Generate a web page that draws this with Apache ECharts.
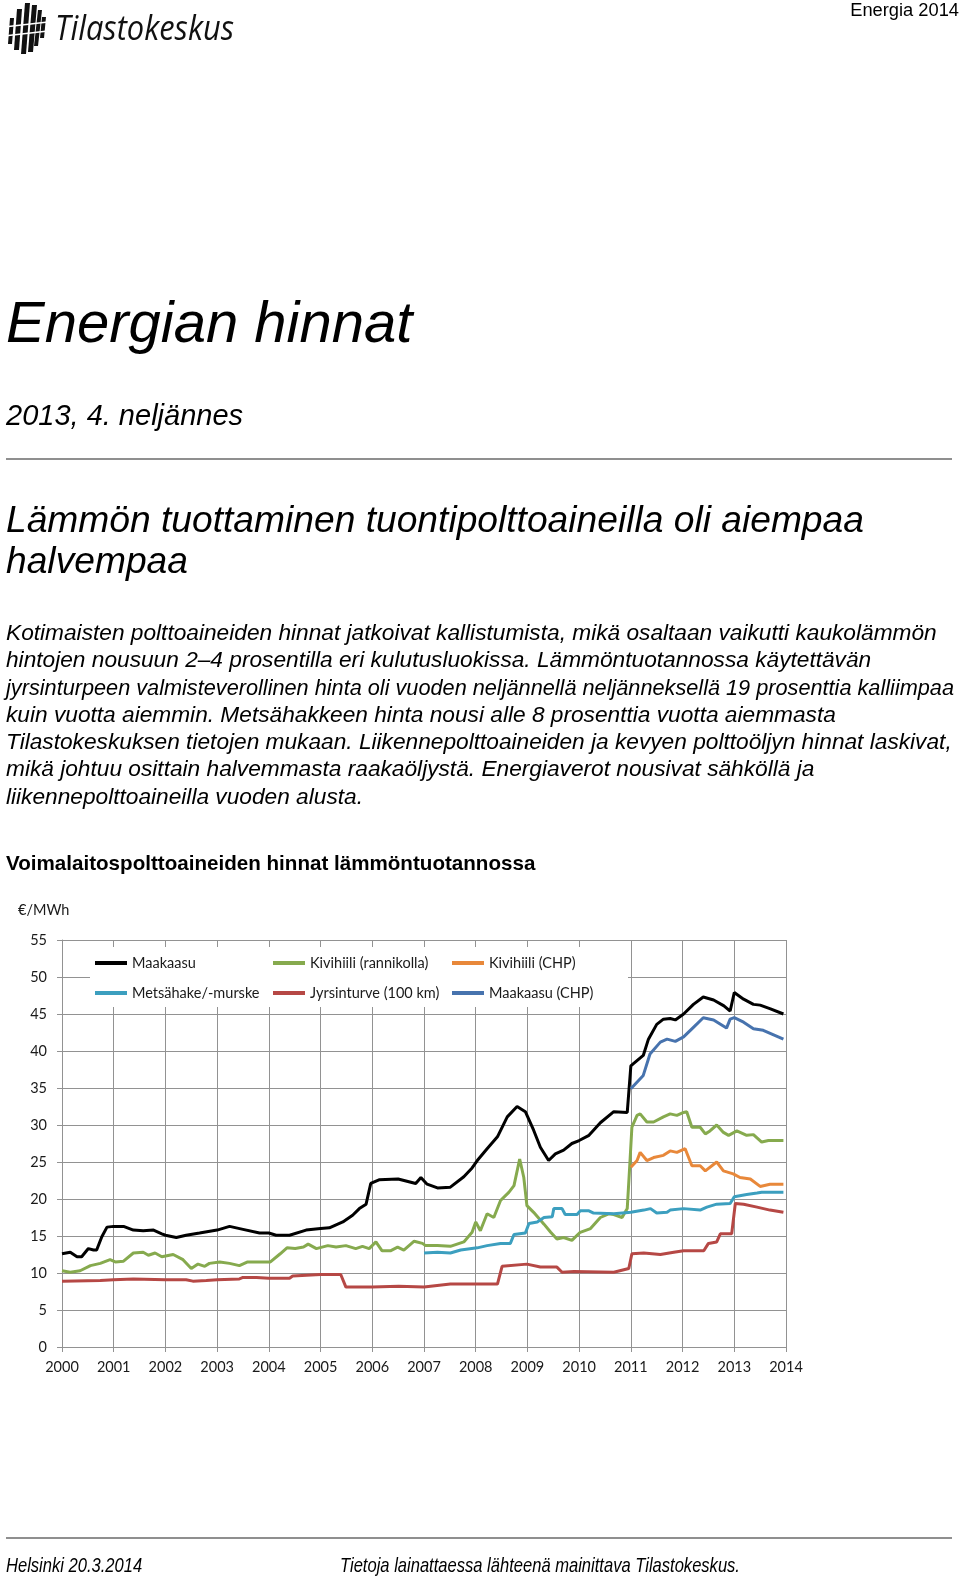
<!DOCTYPE html>
<html>
<head>
<meta charset="utf-8">
<script src="https://cdn.jsdelivr.net/npm/echarts@6/dist/echarts.min.js"></script>
<style>
html,body{margin:0;padding:0;background:#fff;}
body{width:960px;height:1579px;position:relative;overflow:hidden;font-family:"Liberation Sans",Arial,sans-serif;color:#000;}
#chart{position:absolute;left:0;top:0;width:960px;height:1579px;}
.t{position:absolute;white-space:nowrap;margin:0;z-index:2;}
.it{font-style:italic;}
.rule{position:absolute;left:6px;width:946px;height:2px;background:#8f8f8f;z-index:2;}
.narrow{display:inline-block;transform:scaleX(0.82);transform-origin:0 0;}
.pl{display:block;white-space:nowrap;transform-origin:0 0;}
</style>
</head>
<body>
<div id="chart"></div>

<svg class="t" style="left:0;top:0" width="50" height="58" viewBox="0 0 50 58">
  <g fill="#111">
    <polygon points="8,44 12,44 14,18 10,18"/>
    <polygon points="14,50 19,50 22,9 17,9"/>
    <polygon points="21,54 26,54 30,3 25,3"/>
    <polygon points="28,52 33,52 37,5 32,5"/>
    <polygon points="34,46 38,46 42,10 38,10"/>
    <polygon points="40,38 44,38 46,17 42,17"/>
  </g>
  <g stroke="#fff" stroke-width="1.6">
    <line x1="4" y1="27" x2="48" y2="22"/>
    <line x1="4" y1="36" x2="48" y2="31"/>
  </g>
</svg>
<div class="t it" id="logoText" style="left:55px;top:10px;font-family:'Open Sans',sans-serif;font-size:34px;line-height:34px;color:#111;">Tilastokeskus</div>

<div class="t" style="right:1px;top:1px;font-size:18.3px;line-height:18px;">Energia 2014</div>

<div class="t it" style="left:6px;top:293px;font-size:58px;line-height:58px;">Energian hinnat</div>
<div class="t it" style="left:6px;top:401px;font-size:29px;line-height:29px;">2013, 4. neljännes</div>
<div class="rule" style="top:458px;"></div>

<div class="t it" style="left:6px;top:499px;font-size:37.2px;line-height:41.3px;">Lämmön tuottaminen tuontipolttoaineilla oli aiempaa<br>halvempaa</div>

<div class="t it" style="left:6px;top:619px;font-size:22.7px;line-height:27.3px;">
<span class="pl">Kotimaisten polttoaineiden hinnat jatkoivat kallistumista, mikä osaltaan vaikutti kaukolämmön</span>
<span class="pl">hintojen nousuun 2–4 prosentilla eri kulutusluokissa. Lämmöntuotannossa käytettävän</span>
<span class="pl" id="pline3">jyrsinturpeen valmisteverollinen hinta oli vuoden neljännellä neljänneksellä 19 prosenttia kalliimpaa</span>
<span class="pl">kuin vuotta aiemmin. Metsähakkeen hinta nousi alle 8 prosenttia vuotta aiemmasta</span>
<span class="pl">Tilastokeskuksen tietojen mukaan. Liikennepolttoaineiden ja kevyen polttoöljyn hinnat laskivat,</span>
<span class="pl">mikä johtuu osittain halvemmasta raakaöljystä. Energiaverot nousivat sähköllä ja</span>
<span class="pl">liikennepolttoaineilla vuoden alusta.</span>
</div>

<div class="t" style="left:6px;top:853px;font-size:20.6px;line-height:20.6px;font-weight:bold;">Voimalaitospolttoaineiden hinnat lämmöntuotannossa</div>

<div class="rule" style="top:1537px;"></div>
<div class="t it" style="left:6px;top:1555px;font-size:20.2px;line-height:20.2px;"><span class="narrow">Helsinki 20.3.2014</span></div>
<div class="t it" style="left:340px;top:1555px;font-size:20.2px;line-height:20.2px;"><span class="narrow">Tietoja lainattaessa lähteenä mainittava Tilastokeskus.</span></div>

<script>
// ---- Data (decimal year, €/MWh) ----
const yearLabels = ['2000','2001','2002','2003','2004','2005','2006','2007','2008','2009','2010','2011','2012','2013','2014'];
const yTickLabels = ['0','5','10','15','20','25','30','35','40','45','50','55'];
const seriesNames = ['Maakaasu','Kivihiili (rannikolla)','Kivihiili (CHP)','Metsähake/-murske','Jyrsinturve (100 km)','Maakaasu (CHP)'];
const seriesColors = ['#000000','#86aa4e','#e8883a','#3c9fbf','#b64845','#4773ae'];

const maakaasu = [[2000.00,12.6],[2000.16,12.8],[2000.29,12.2],[2000.38,12.2],[2000.51,13.3],[2000.61,13.1],[2000.67,13.1],[2000.77,14.9],[2000.87,16.2],[2001.0,16.3],[2001.19,16.3],[2001.38,15.8],[2001.57,15.7],[2001.77,15.8],[2001.93,15.3],[2002.0,15.1],[2002.21,14.8],[2002.4,15.1],[2002.66,15.4],[2003.0,15.8],[2003.24,16.3],[2003.5,15.9],[2003.82,15.4],[2004.0,15.4],[2004.14,15.1],[2004.4,15.1],[2004.72,15.8],[2005.0,16.0],[2005.17,16.1],[2005.43,16.9],[2005.62,17.8],[2005.75,18.7],[2005.88,19.3],[2005.97,22.1],[2006.13,22.6],[2006.5,22.7],[2006.84,22.1],[2006.94,22.9],[2007.06,22.0],[2007.26,21.5],[2007.51,21.6],[2007.77,23.0],[2007.93,24.2],[2008.03,25.2],[2008.22,26.8],[2008.42,28.4],[2008.61,31.1],[2008.8,32.5],[2008.96,31.8],[2009.12,29.3],[2009.25,27.0],[2009.41,25.2],[2009.54,26.1],[2009.7,26.6],[2009.86,27.5],[2010.0,27.9],[2010.19,28.6],[2010.41,30.3],[2010.67,31.8],[2010.93,31.7],[2011.0,38.0],[2011.05,38.3],[2011.24,39.4],[2011.34,41.6],[2011.5,43.6],[2011.63,44.3],[2011.76,44.4],[2011.86,44.2],[2012.02,45.0],[2012.21,46.3],[2012.4,47.3],[2012.6,46.9],[2012.8,46.1],[2012.92,45.4],[2013.0,47.9],[2013.18,47.0],[2013.37,46.3],[2013.5,46.2],[2013.7,45.7],[2013.95,45.0]];

const kivihiiliRannikolla = [[2000.0,10.3],[2000.16,10.1],[2000.35,10.3],[2000.55,11.0],[2000.74,11.3],[2000.93,11.8],[2001.03,11.5],[2001.19,11.6],[2001.38,12.7],[2001.57,12.8],[2001.67,12.4],[2001.8,12.7],[2001.93,12.2],[2002.15,12.5],[2002.34,11.8],[2002.5,10.6],[2002.63,11.2],[2002.76,10.9],[2002.85,11.3],[2003.05,11.5],[2003.24,11.3],[2003.43,11.0],[2003.59,11.5],[2003.82,11.5],[2004.03,11.5],[2004.22,12.6],[2004.35,13.4],[2004.51,13.3],[2004.67,13.5],[2004.76,13.9],[2004.92,13.3],[2005.14,13.7],[2005.3,13.5],[2005.49,13.7],[2005.68,13.3],[2005.81,13.6],[2005.94,13.3],[2006.07,14.2],[2006.19,13.0],[2006.35,13.0],[2006.49,13.5],[2006.61,13.1],[2006.81,14.3],[2006.97,14.0],[2007.03,13.7],[2007.26,13.7],[2007.51,13.6],[2007.77,14.2],[2007.93,15.5],[2008.0,16.9],[2008.09,15.7],[2008.22,18.0],[2008.35,17.5],[2008.48,19.8],[2008.64,20.9],[2008.74,21.8],[2008.85,25.4],[2008.93,22.9],[2008.99,19.1],[2009.12,18.2],[2009.32,16.6],[2009.45,15.5],[2009.57,14.6],[2009.7,14.8],[2009.86,14.4],[2010.02,15.5],[2010.22,16.0],[2010.41,17.5],[2010.57,18.0],[2010.67,17.9],[2010.83,17.5],[2010.93,18.7],[2010.98,24.7],[2011.02,29.7],[2011.12,31.3],[2011.18,31.5],[2011.31,30.4],[2011.44,30.4],[2011.63,31.1],[2011.76,31.5],[2011.89,31.3],[2012.02,31.7],[2012.08,31.8],[2012.18,29.7],[2012.34,29.7],[2012.44,28.8],[2012.53,29.2],[2012.66,30.0],[2012.79,29.0],[2012.89,28.6],[2013.05,29.2],[2013.24,28.6],[2013.37,28.7],[2013.53,27.7],[2013.66,27.9],[2013.95,27.9]];

const kivihiiliCHP = [[2011.0,24.3],[2011.12,25.2],[2011.18,26.3],[2011.31,25.2],[2011.44,25.6],[2011.63,25.9],[2011.76,26.5],[2011.89,26.3],[2012.05,26.8],[2012.18,24.5],[2012.34,24.5],[2012.44,23.8],[2012.66,25.0],[2012.79,23.8],[2012.98,23.4],[2013.11,22.9],[2013.31,22.7],[2013.5,21.7],[2013.69,22.0],[2013.95,22.0]];

const metsahake = [[2007.0,12.7],[2007.26,12.8],[2007.51,12.7],[2007.71,13.1],[2008.03,13.4],[2008.22,13.7],[2008.48,14.0],[2008.67,14.0],[2008.74,15.2],[2008.96,15.4],[2009.03,16.7],[2009.19,16.9],[2009.32,17.5],[2009.48,17.6],[2009.51,18.7],[2009.67,18.7],[2009.73,17.9],[2009.96,17.9],[2010.02,18.4],[2010.19,18.4],[2010.28,18.1],[2010.67,18.0],[2011.0,18.2],[2011.25,18.5],[2011.38,18.7],[2011.5,18.1],[2011.7,18.2],[2011.76,18.5],[2012.02,18.7],[2012.34,18.5],[2012.47,18.9],[2012.66,19.3],[2012.92,19.4],[2013.0,20.3],[2013.24,20.6],[2013.44,20.8],[2013.53,20.9],[2013.95,20.9]];

const jyrsinturve = [[2000.0,8.9],[2000.74,9.0],[2001.0,9.1],[2001.38,9.2],[2002.0,9.1],[2002.4,9.1],[2002.53,8.9],[2002.79,9.0],[2003.0,9.1],[2003.43,9.2],[2003.5,9.4],[2003.76,9.4],[2004.0,9.3],[2004.4,9.3],[2004.46,9.6],[2005.0,9.8],[2005.39,9.8],[2005.49,8.1],[2006.0,8.1],[2006.51,8.2],[2007.0,8.1],[2007.51,8.5],[2008.42,8.5],[2008.51,10.9],[2008.99,11.2],[2009.25,10.8],[2009.57,10.8],[2009.67,10.1],[2009.9,10.2],[2010.67,10.1],[2010.96,10.6],[2011.02,12.6],[2011.25,12.7],[2011.57,12.5],[2011.83,12.8],[2012.02,13.0],[2012.41,13.0],[2012.5,14.0],[2012.66,14.2],[2012.73,15.3],[2012.95,15.3],[2013.02,19.4],[2013.18,19.3],[2013.44,18.9],[2013.69,18.5],[2013.95,18.2]];

const maakaasuCHP = [[2011.0,34.9],[2011.24,36.7],[2011.37,39.6],[2011.57,41.2],[2011.7,41.6],[2011.86,41.3],[2012.02,41.9],[2012.21,43.2],[2012.4,44.5],[2012.6,44.2],[2012.85,43.1],[2012.92,44.3],[2013.0,44.5],[2013.18,43.9],[2013.37,43.0],[2013.56,42.8],[2013.95,41.6]];

const seriesData = [maakaasu, kivihiiliRannikolla, kivihiiliCHP, metsahake, jyrsinturve, maakaasuCHP];

// ---- text width fitting (layout only) ----
function fitWidth(el, target) {
  el.style.display = 'inline-block';
  const w = el.getBoundingClientRect().width;
  el.style.transformOrigin = '0 0';
  el.style.transform = 'scaleX(' + (target / w) + ')';
  el.style.display = 'block';
}
(function(){
  const logo = document.getElementById('logoText');
  const w = logo.getBoundingClientRect().width;
  logo.style.transformOrigin = '0 0';
  logo.style.transform = 'scaleX(' + (179 / w) + ')';
  fitWidth(document.getElementById('pline3'), 948);
})();

const chartFont = 'Lato, "Open Sans", sans-serif';
const chart = echarts.init(document.getElementById('chart'), null, {renderer: 'canvas'});

const legendBase = {
  orient: 'vertical', top: 955, itemGap: 14, itemWidth: 32, itemHeight: 4,
  icon: 'rect', padding: 0, selectedMode: false,
  textStyle: {fontFamily: chartFont, fontSize: 14.5, color: '#1a1a1a', lineHeight: 16}
};

chart.setOption({
  animation: false,
  textStyle: {fontFamily: chartFont},
  grid: {left: 62, right: 174, top: 940, bottom: 232, show: false},
  graphic: [
    {type: 'rect', z: 3, shape: {x: 90, y: 947, width: 538, height: 60}, style: {fill: '#fff'}},
    {type: 'text', z: 3, x: 18, y: 910, style: {text: '€/MWh', fontFamily: chartFont, fontSize: 14.5, fill: '#1a1a1a', verticalAlign: 'middle'}}
  ],
  legend: [
    Object.assign({}, legendBase, {left: 95, data: [seriesNames[0], seriesNames[3]]}),
    Object.assign({}, legendBase, {left: 273, data: [seriesNames[1], seriesNames[4]]}),
    Object.assign({}, legendBase, {left: 452, data: [seriesNames[2], seriesNames[5]]})
  ],
  xAxis: {
    type: 'value', min: 2000, max: 2014, interval: 1,
    axisLine: {show: true, lineStyle: {color: '#929292', width: 1}},
    axisTick: {show: true, length: 5, lineStyle: {color: '#929292'}},
    splitLine: {show: true, lineStyle: {color: '#929292', width: 1}},
    axisLabel: {margin: 13, fontSize: 14.5, color: '#1a1a1a', fontFamily: chartFont,
      formatter: v => yearLabels[Math.round(v - 2000)]}
  },
  yAxis: {
    type: 'value', min: 0, max: 55, interval: 5,
    axisLine: {show: true, lineStyle: {color: '#929292', width: 1}},
    axisTick: {show: true, length: 5, lineStyle: {color: '#929292'}},
    splitLine: {show: true, lineStyle: {color: '#929292', width: 1}},
    axisLabel: {margin: 15, fontSize: 14.5, color: '#1a1a1a', fontFamily: chartFont,
      formatter: v => yTickLabels[Math.round(v / 5)]}
  },
  series: seriesNames.map((name, i) => ({
    name: name, type: 'line', data: seriesData[i], showSymbol: false, symbol: 'none',
    smooth: false, z: 2,
    itemStyle: {color: seriesColors[i]},
    lineStyle: {color: seriesColors[i], width: 3}
  }))
});
</script>
</body>
</html>
